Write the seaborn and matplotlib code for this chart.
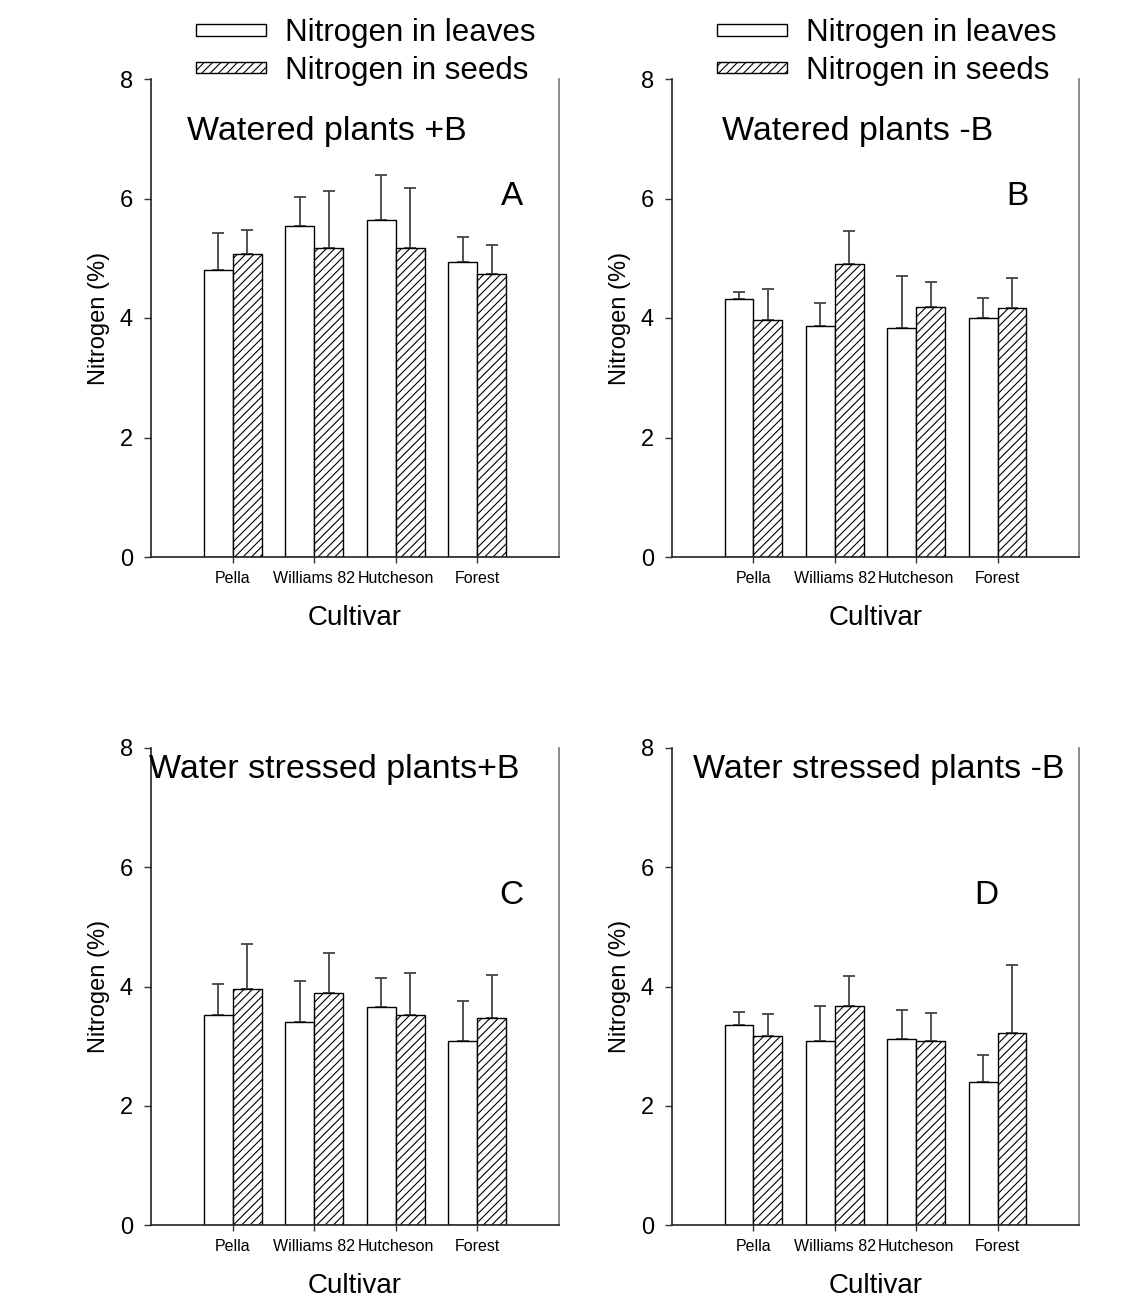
import numpy as np
import pandas as pd
import matplotlib
matplotlib.use("Agg")
import matplotlib.pyplot as plt
from matplotlib.patches import Patch
import seaborn as sns

# Cultivars and tissues
cultivars = ["Pella", "Williams 82", "Hutcheson", "Forest"]
tissues = ["Nitrogen in leaves", "Nitrogen in seeds"]

# Mean nitrogen (%) and standard deviation per panel
a_leaves = [4.80, 5.54, 5.64, 4.94]
a_leaves_sd = [0.63, 0.49, 0.76, 0.41]
a_seeds = [5.07, 5.17, 5.17, 4.73]
a_seeds_sd = [0.41, 0.95, 1.01, 0.50]

b_leaves = [4.32, 3.87, 3.84, 4.00]
b_leaves_sd = [0.12, 0.38, 0.86, 0.34]
b_seeds = [3.97, 4.90, 4.19, 4.17]
b_seeds_sd = [0.52, 0.56, 0.42, 0.50]

c_leaves = [3.53, 3.40, 3.65, 3.08]
c_leaves_sd = [0.52, 0.70, 0.50, 0.68]
c_seeds = [3.95, 3.89, 3.53, 3.48]
c_seeds_sd = [0.77, 0.68, 0.70, 0.71]

d_leaves = [3.35, 3.08, 3.12, 2.39]
d_leaves_sd = [0.23, 0.60, 0.49, 0.46]
d_seeds = [3.17, 3.68, 3.08, 3.22]
d_seeds_sd = [0.37, 0.49, 0.48, 1.14]

panel_titles = ["Watered plants +B", "Watered plants -B",
                "Water stressed plants+B", "Water stressed plants -B"]
panel_letters = ["A", "B", "C", "D"]
y_ticks = [0, 2, 4, 6, 8]

panels = [
    (a_leaves, a_leaves_sd, a_seeds, a_seeds_sd),
    (b_leaves, b_leaves_sd, b_seeds, b_seeds_sd),
    (c_leaves, c_leaves_sd, c_seeds, c_seeds_sd),
    (d_leaves, d_leaves_sd, d_seeds, d_seeds_sd),
]

sns.set_style("white")
plt.rcParams["font.family"] = ["Liberation Sans", "DejaVu Sans"]
plt.rcParams["text.color"] = "black"
plt.rcParams["axes.labelcolor"] = "black"
plt.rcParams["xtick.color"] = "black"
plt.rcParams["ytick.color"] = "black"
plt.rcParams["hatch.linewidth"] = 0.8
plt.rcParams["hatch.color"] = "#222222"

W, H = 1138, 1299
fig = plt.figure(figsize=(W / 100, H / 100), dpi=100)

# axes boxes in pixels: left, top, right, bottom
boxes = [(151, 79, 559, 557), (672, 79, 1079, 557),
         (151, 748, 559, 1225), (672, 748, 1079, 1225)]

# title placement (x start, y centre) and letter placement in data units
title_pos = [(-0.56, 7.12), (-0.38, 7.12), (-1.02, 7.64), (-0.74, 7.64)]
letter_pos = [(3.42, 6.03), (3.24, 6.03), (3.42, 5.52), (2.86, 5.52)]

for i, (lv, lsd, sv, ssd) in enumerate(panels):
    l, t, r, b = boxes[i]
    ax = fig.add_axes([l / W, 1 - b / H, (r - l) / W, (b - t) / H])

    df = pd.DataFrame({
        "Cultivar": cultivars * 2,
        "Tissue": [tissues[0]] * 4 + [tissues[1]] * 4,
        "Nitrogen": lv + sv,
    })

    sns.barplot(data=df, x="Cultivar", y="Nitrogen", hue="Tissue",
                order=cultivars, hue_order=tissues,
                palette=["white", "white"], edgecolor="black", linewidth=1.0,
                width=0.71, errorbar=None, legend=False, ax=ax, zorder=2)

    bar_groups = list(ax.containers)
    for k, cont in enumerate(bar_groups):
        errs = lsd if k == 0 else ssd
        xs, ys = [], []
        for bar in cont:
            xs.append(bar.get_x() + bar.get_width() / 2)
            ys.append(bar.get_height())
            if k == 1:
                bar.set_hatch("////")
        ax.errorbar(xs, ys, yerr=[np.zeros(len(errs)), errs], fmt="none",
                    ecolor="#444444", elinewidth=1.3, capsize=4.5,
                    capthick=1.3, zorder=1)

    ax.set_xlim(-1, 4)
    ax.set_ylim(0, 8)
    ax.set_yticks(y_ticks)
    ax.set_yticklabels([str(v) for v in y_ticks], fontsize=17)
    ax.tick_params(axis="y", direction="out", length=5, width=1,
                   color="#333333", pad=8, left=True)
    ax.tick_params(axis="x", direction="out", length=4, width=1,
                   color="#333333", pad=6, labelsize=11.5, bottom=True)

    ax.set_xlabel("Cultivar", fontsize=20, labelpad=14)
    ax.set_ylabel("Nitrogen (%)", fontsize=17, labelpad=7)

    for side in ["left", "bottom"]:
        ax.spines[side].set_color("#222222")
        ax.spines[side].set_linewidth(1.2)
    ax.spines["right"].set_color("#777777")
    ax.spines["right"].set_linewidth(1.2)
    ax.spines["top"].set_visible(False)

    tx, ty = title_pos[i]
    ax.text(tx, ty, panel_titles[i], fontsize=24.5, ha="left", va="center")
    lx, ly = letter_pos[i]
    ax.text(lx, ly, panel_letters[i], fontsize=24, ha="center", va="center")

    if i < 2:
        handles = [Patch(facecolor="white", edgecolor="black", linewidth=1.0,
                         label=tissues[0]),
                   Patch(facecolor="white", edgecolor="black", linewidth=1.0,
                         hatch="////", label=tissues[1])]
        hx = (196 if i == 0 else 717) / W
        fig.legend(handles=handles, loc="upper left",
                   bbox_to_anchor=(hx, 1 - 18 / H), frameon=False,
                   fontsize=22.5, handlelength=2.25, handleheight=0.2,
                   handletextpad=0.6, labelspacing=0.25, borderpad=0,
                   borderaxespad=0)

fig.savefig("out.png", dpi=100)
